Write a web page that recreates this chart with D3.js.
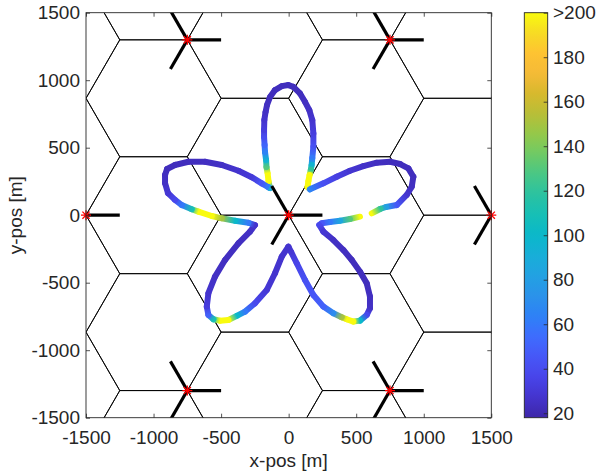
<!DOCTYPE html>
<html>
<head>
<meta charset="utf-8">
<script src="https://cdn.jsdelivr.net/npm/d3@7"></script>
<style>
  html, body { margin: 0; padding: 0; background: #fff; }
  svg { display: block; font-family: "Liberation Sans", Arial, Helvetica, sans-serif; }
</style>
</head>
<body>
<svg id="chart" width="597" height="475"></svg>
<script>
// Base station sites [m] (three-sector sites)
const siteX = [0, 1500, -1500, 750, -750, 750, -750];
const siteY = [0, 0, 0, 1299, 1299, -1299, -1299];
const sectorAzimuth = [0, 120, 240];   // antenna boresights [deg]
const antennaLength = 250;             // drawn length of a sector antenna [m]
const cellRadius = 500;                // hexagonal cell side [m]

const axisTicks = [-1500, -1000, -500, 0, 500, 1000, 1500];
const cbTicks = [20, 40, 60, 80, 100, 120, 140, 160, 180, 200];
const cbTickLabels = ["20", "40", "60", "80", "100", "120", "140", "160", "180", ">200"];
const colorDomain = [18, 200];

// UE trajectory [m] with the value recorded at each point (null = no sample)
const trajX = [
  -138, -149, -156, -164, -167, -175, -178, -182, -182, -180, -171, -160, -138, -101, -51, -2, 35, 84, 121, 153, 175, 183, 183, 175, 170, 164, 155, 146, 140,
  158, 257, 356, 454, 553, 652, 751, 825, 886, 923, 911, 874, 800, 721, 677, 615,
  null,
  528, 454, 380, 306, 245, 227, 257, 331, 405, 467, 528, 578, 602, 602, 578, 528, 479, 430, 393, 331, 257, 183, 121, 60, 18, -2,
  -51, -101, -162, -249, -323, -384, -446, -508, -557, -594, -606, -594, -545, -471, -372, -286, -249,
  -298, -397, -495, -569, -668, -717, -791, -841, -893, -915, -915, -900, -841, -742, -619, -495, -372, -273, -199, -150
];
const trajY = [
  201, 253, 312, 357, 409, 468, 520, 579, 631, 705, 764, 816, 875, 927, 956, 964, 951, 902, 840, 779, 705, 606, 507, 423, 372, 335, 298, 253, 209,
  192, 236, 285, 329, 364, 389, 396, 379, 347, 285, 211, 150, 75, 61, 46, 14,
  null,
  -11, -28, -41, -50, -60, -73, -122, -184, -258, -332, -418, -504, -603, -689, -739, -781, -788, -771, -756, -726, -677, -591, -480, -356, -272, -233,
  -307, -430, -554, -652, -714, -746, -776, -781, -771, -739, -677, -578, -455, -332, -208, -122, -73,
  -56, -41, -23, -6, 26, 44, 75, 113, 164, 238, 298, 342, 372, 396, 396, 372, 329, 281, 236, 207
];
const trajV = [
  90, 210, 210, 130, 95, 65, 52, 40, 32, 27, 25, 24, 23, 23, 23, 23, 23, 23, 24, 25, 27, 32, 42, 60, 95, 120, 210, 210, 210,
  65, 42, 34, 28, 26, 24, 23, 23, 23, 23, 24, 27, 45, 80, 120, 210,
  null,
  210, 130, 85, 60, 45, 38, 29, 25, 24, 23, 23, 23, 24, 25, 38, 100, 200, 210, 150, 70, 50, 45, 42, 36, 29, 27,
  27, 27, 29, 38, 60, 100, 210, 210, 110, 50, 32, 27, 25, 24, 24, 25, 27,
  60, 100, 150, 210, 210, 110, 60, 38, 29, 25, 24, 23, 23, 23, 24, 25, 27, 30, 45, 60
];

// parula-like colormap stops
const parulaStops = [
  [62, 38, 168], [68, 52, 206], [72, 68, 233], [71, 87, 247], [62, 108, 253],
  [46, 129, 247], [43, 146, 234], [34, 161, 226], [24, 174, 216], [10, 184, 202],
  [22, 191, 182], [42, 194, 161], [72, 199, 134], [110, 202, 101], [148, 200, 74],
  [184, 190, 55], [215, 185, 45], [245, 186, 55], [254, 195, 50], [246, 219, 36],
  [249, 251, 14]
];

const textColor = "#262626";
const fontSize = 19;

const plot = { left: 86, top: 12.7, right: 491.3, bottom: 417.7 };
const svg = d3.select("#chart");

const x = d3.scaleLinear().domain([-1500, 1500]).range([plot.left, plot.right]);
const y = d3.scaleLinear().domain([-1500, 1500]).range([plot.bottom, plot.top]);

const parula = d3.scaleLinear()
  .domain(parulaStops.map((_, i) => i / (parulaStops.length - 1)))
  .range(parulaStops.map(c => d3.rgb(c[0], c[1], c[2]).formatHex()))
  .interpolate(d3.interpolateRgb)
  .clamp(true);
const valueToT = d3.scaleLinear().domain(colorDomain).range([0, 1]).clamp(true);
const color = v => parula(valueToT(v));

const defs = svg.append("defs");
defs.append("clipPath").attr("id", "plotClip")
  .append("rect")
  .attr("x", plot.left).attr("y", plot.top)
  .attr("width", plot.right - plot.left).attr("height", plot.bottom - plot.top);

const plotArea = svg.append("g").attr("clip-path", "url(#plotClip)");

// Hexagonal cell grid (flat-topped hexagons)
const rowStep = cellRadius * Math.sqrt(3);
const hexCenters = [];
for (let i = -4; i <= 3; i++) {
  const cx = cellRadius + 1.5 * cellRadius * i;
  const off = (Math.abs(i) % 2) * rowStep / 2;
  for (let j = -3; j <= 3; j++) hexCenters.push([cx, off + j * rowStep]);
}
const hexLine = d3.line().x(d => x(d[0])).y(d => y(d[1])).curve(d3.curveLinearClosed);
plotArea.append("g")
  .selectAll("path")
  .data(hexCenters)
  .join("path")
  .attr("d", c => hexLine(d3.range(6).map(k => [
    c[0] + cellRadius * Math.cos(k * Math.PI / 3),
    c[1] + cellRadius * Math.sin(k * Math.PI / 3)
  ])))
  .attr("fill", "none")
  .attr("stroke", "#000")
  .attr("stroke-width", 0.9);

// Trajectory drawn as colour-graded segments
const segs = [];
const n = trajX.length;
for (let i = 0; i < n; i++) {
  const a = i, b = (i + 1) % n;
  if (trajX[a] === null || trajX[b] === null) continue;
  segs.push({ a, b });
}
const grads = defs.selectAll("linearGradient.seg")
  .data(segs)
  .join("linearGradient")
  .attr("class", "seg")
  .attr("id", (d, i) => "seg" + i)
  .attr("gradientUnits", "userSpaceOnUse")
  .attr("x1", d => x(trajX[d.a])).attr("y1", d => y(trajY[d.a]))
  .attr("x2", d => x(trajX[d.b])).attr("y2", d => y(trajY[d.b]));
grads.append("stop").attr("offset", 0).attr("stop-color", d => color(trajV[d.a]));
grads.append("stop").attr("offset", 1).attr("stop-color", d => color(trajV[d.b]));

plotArea.append("g")
  .selectAll("line")
  .data(segs)
  .join("line")
  .attr("x1", d => x(trajX[d.a])).attr("y1", d => y(trajY[d.a]))
  .attr("x2", d => x(trajX[d.b])).attr("y2", d => y(trajY[d.b]))
  .attr("stroke", (d, i) => `url(#seg${i})`)
  .attr("stroke-width", 6)
  .attr("stroke-linecap", "round");

// Sector antennas
const antennas = [];
siteX.forEach((sx, s) => sectorAzimuth.forEach(az => {
  const r = az * Math.PI / 180;
  antennas.push([sx, siteY[s], sx + antennaLength * Math.cos(r), siteY[s] + antennaLength * Math.sin(r)]);
}));
plotArea.append("g")
  .selectAll("line")
  .data(antennas)
  .join("line")
  .attr("x1", d => x(d[0])).attr("y1", d => y(d[1]))
  .attr("x2", d => x(d[2])).attr("y2", d => y(d[3]))
  .attr("stroke", "#000")
  .attr("stroke-width", 3.2);

// Site markers (asterisks)
const star = "M-5,0L5,0M0,-5L0,5M-3.6,-3.6L3.6,3.6M-3.6,3.6L3.6,-3.6";
svg.append("g")
  .selectAll("path")
  .data(siteX.map((sx, i) => [sx, siteY[i]]))
  .join("path")
  .attr("transform", d => `translate(${x(d[0])},${y(d[1])})`)
  .attr("d", star)
  .attr("fill", "none")
  .attr("stroke", "#ff0000")
  .attr("stroke-width", 1.3);

// Axes
const fmt = d => String(d);
function styleAxis(g) {
  g.select(".domain").remove();
  g.selectAll(".tick line").attr("stroke", textColor).attr("stroke-width", 0.8);
  g.selectAll(".tick text").attr("fill", textColor).attr("font-size", fontSize);
  g.attr("font-family", null).attr("font-size", null);
}
svg.append("g").attr("transform", `translate(0,${plot.bottom})`)
  .call(d3.axisBottom(x).tickValues(axisTicks).tickFormat(fmt).tickSizeInner(-4).tickSizeOuter(0).tickPadding(12.5))
  .call(styleAxis);
svg.append("g").attr("transform", `translate(0,${plot.top})`)
  .call(d3.axisTop(x).tickValues(axisTicks).tickFormat("").tickSizeInner(-4).tickSizeOuter(0))
  .call(styleAxis);
svg.append("g").attr("transform", `translate(${plot.left},0)`)
  .call(d3.axisLeft(y).tickValues(axisTicks).tickFormat(fmt).tickSizeInner(-4).tickSizeOuter(0).tickPadding(6))
  .call(styleAxis);
svg.append("g").attr("transform", `translate(${plot.right},0)`)
  .call(d3.axisRight(y).tickValues(axisTicks).tickFormat("").tickSizeInner(-4).tickSizeOuter(0))
  .call(styleAxis);

svg.append("rect")
  .attr("x", plot.left).attr("y", plot.top)
  .attr("width", plot.right - plot.left).attr("height", plot.bottom - plot.top)
  .attr("fill", "none").attr("stroke", textColor).attr("stroke-width", 0.9);

svg.append("text")
  .attr("x", (plot.left + plot.right) / 2).attr("y", 467)
  .attr("text-anchor", "middle").attr("fill", textColor).attr("font-size", fontSize)
  .text("x-pos [m]");
svg.append("text")
  .attr("transform", `translate(21.5,${(plot.top + plot.bottom) / 2}) rotate(-90)`)
  .attr("text-anchor", "middle").attr("fill", textColor).attr("font-size", fontSize)
  .text("y-pos [m]");

// Colorbar
const cb = { left: 524.3, right: 547.7 };
const cy = d3.scaleLinear().domain(colorDomain).range([plot.bottom, plot.top]);
const cbGrad = defs.append("linearGradient").attr("id", "cbGrad")
  .attr("x1", 0).attr("y1", 1).attr("x2", 0).attr("y2", 0);
d3.range(0, 1.0001, 0.02).forEach(t => {
  cbGrad.append("stop").attr("offset", t).attr("stop-color", parula(t));
});
svg.append("rect")
  .attr("x", cb.left).attr("y", plot.top)
  .attr("width", cb.right - cb.left).attr("height", plot.bottom - plot.top)
  .attr("fill", "url(#cbGrad)");
svg.append("g").attr("transform", `translate(${cb.right},0)`)
  .call(d3.axisRight(cy).tickValues(cbTicks).tickFormat((d, i) => cbTickLabels[i]).tickSizeInner(-4).tickSizeOuter(0).tickPadding(5.3))
  .call(styleAxis);
svg.append("rect")
  .attr("x", cb.left).attr("y", plot.top)
  .attr("width", cb.right - cb.left).attr("height", plot.bottom - plot.top)
  .attr("fill", "none").attr("stroke", textColor).attr("stroke-width", 0.9);
</script>
</body>
</html>
